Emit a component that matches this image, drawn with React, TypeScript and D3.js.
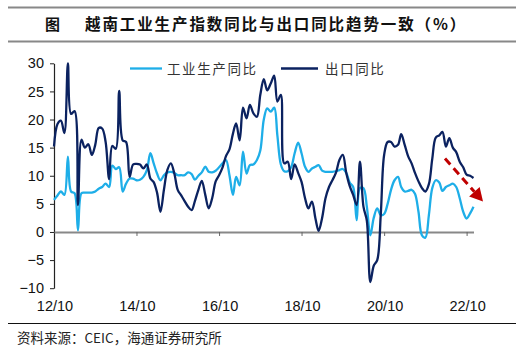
import React, { useEffect, useRef } from "react";
import * as d3 from "d3";

// 数据: 2012/10 起的月度同比 (%)
const startMonth = new Date(2012, 9, 1);
const industryYoY = [
  5.7, 6.5, 7.2, 6.6, 13.4, 7.2, 6.9, 0.3, 6.9, 7.0, 7.0, 7.0, 7.2, 7.7, 8.0, 8.6, 8.0, 11.8, 11.2, 11.5,
  7.2, 8.6, 9.5, 9.5, 9.2, 9.3, 9.8, 11.0, 14.0, 12.3, 10.4, 9.2, 10.1, 10.6, 10.7, 10.5, 10.1, 10.1, 10.1, 10.6,
  10.3, 9.3, 10.0, 10.6, 11.6, 10.7, 10.6, 10.9, 11.5, 12.2, 12.8, 10.1, 6.6, 9.8, 8.3, 14.3, 10.4, 11.9, 12.0, 12.8,
  14.5, 20.0, 22.0, 21.4, 22.1, 17.2, 12.0, 10.8, 10.8, 11.5, 14.0, 15.9, 14.0, 11.6, 10.7, 11.3, 11.6, 11.9, 10.9, 10.7,
  10.7, 10.7, 10.8, 11.0, 11.2, 10.5, 8.8, 8.0, 2.1, 7.8, 7.8, 4.5, -0.6, 2.5, 4.2, 3.0, 3.2, 5.0, 7.5, 9.2,
  9.8, 8.0, 7.2, 7.3, 7.5, 6.8, 3.6, -0.6, -1.0, 3.0, 7.8, 9.2, 8.8, 7.3, 8.0, 8.3, 8.6, 8.0, 6.0, 3.6,
  2.4, 3.3, 4.5,
];
const exportYoY = [
  15.2, 19.2, 19.8, 17.6, 30.0, 21.0, 21.5, 4.8, 16.4, 15.0, 15.6, 13.7, 15.5, 18.5, 18.4, 16.0, 9.4, 15.3, 14.8, 25.1,
  16.3, 16.0, 9.8, 12.0, 12.1, 12.0, 11.3, 12.0, 9.5, 8.9, 7.0, 3.6, 7.5, 11.0, 12.2, 10.4, 7.5, 6.5, 5.5, 4.5,
  3.9, 5.5, 7.5, 9.1, 6.6, 4.2, 6.0, 9.0, 10.1, 11.5, 13.5, 14.7, 17.5, 19.3, 16.3, 22.1, 20.2, 22.6, 21.1, 20.5,
  24.4, 27.2, 25.2, 26.4, 27.8, 23.2, 24.4, 12.2, 12.5, 9.4, 12.0, 10.5, 8.9, 6.0, 4.2, 5.4, 2.4, 0.2, 2.5, 6.0,
  8.0, 9.2, 10.5, 12.8, 13.7, 10.5, 8.2, 6.6, 4.8, 12.5, 4.5, 2.0, -8.9, -6.0, -5.0, 3.0, 13.7, 16.0, 16.0, 15.2,
  15.5, 17.4, 15.5, 13.5, 12.2, 10.5, 9.0, 7.8, 7.2, 8.5, 13.0, 16.8, 17.2, 17.8, 15.2, 16.7, 15.0, 14.2, 12.5, 11.5,
  10.2, 10.0, 9.6,
];
const yTicks = [-10, -5, 0, 5, 10, 15, 20, 25, 30];
const xTickLabels = ["12/10", "14/10", "16/10", "18/10", "20/10", "22/10"];

const seriesNames = ["工业生产同比", "出口同比"];
const colors = { light: "#1eaee8", dark: "#0b2260", red: "#c00000" };

const App = () => {
  const ref = useRef<SVGSVGElement | null>(null);

  useEffect(() => {
    const svg = d3.select(ref.current);
    svg.selectAll("*").remove();

    const numFont = "'Liberation Sans', Arial, sans-serif";
    const cjkFont = "'Noto Sans CJK SC', sans-serif";

    const months = industryYoY.map((_, i) => d3.timeMonth.offset(startMonth, i));
    const parse = d3.timeParse("%y/%m");
    const fmt = d3.timeFormat("%y/%m");

    const x = d3
      .scaleTime()
      .domain([startMonth, months[months.length - 1]])
      .range([54, 473.5]);
    const y = d3.scaleLinear().domain([-10, 30]).range([288.2, 63.3]);

    svg.append("rect").attr("width", 525).attr("height", 353).attr("fill", "#fff");

    // 标题
    svg.append("line").attr("x1", 8).attr("x2", 516).attr("y1", 7.5).attr("y2", 7.5)
      .attr("stroke", "#888").attr("stroke-width", 2);
    svg.append("line").attr("x1", 8).attr("x2", 516).attr("y1", 41.5).attr("y2", 41.5)
      .attr("stroke", "#888").attr("stroke-width", 2);
    svg.append("text").attr("x", 45).attr("y", 30).text("图")
      .style("font-family", cjkFont).style("font-weight", 700).style("font-size", "15px").attr("fill", "#111");
    svg.append("text").attr("x", 85).attr("y", 30).text("越南工业生产指数同比与出口同比趋势一致（%）")
      .style("font-family", cjkFont).style("font-weight", 700).style("font-size", "15.5px")
      .style("letter-spacing", "1.9px").attr("fill", "#111");

    // y 轴
    const yAxis = svg.append("g").attr("transform", "translate(54,0)")
      .call(d3.axisLeft(y).tickValues(yTicks).tickSize(4).tickSizeOuter(0).tickPadding(6));
    yAxis.select(".domain").attr("stroke", "#222").attr("stroke-width", 1.2);
    yAxis.selectAll(".tick line").attr("stroke", "#222");
    yAxis.selectAll("text").style("font-family", numFont).style("font-size", "14.5px").attr("fill", "#111");

    // x 轴 (0 线)
    const xAxis = svg.append("g").attr("transform", `translate(0,${y(0)})`)
      .call(d3.axisBottom(x).tickValues(xTickLabels.slice(1).map((s) => parse(s) as Date)).tickSize(4).tickSizeOuter(0).tickFormat(() => ""));
    xAxis.select(".domain").attr("stroke", "#888").attr("stroke-width", 2);
    xAxis.selectAll(".tick line").attr("stroke", "#666");

    svg.append("g").selectAll("text").data(xTickLabels).join("text")
      .attr("x", (d) => x(parse(d) as Date) + 1)
      .attr("y", 311)
      .attr("text-anchor", "middle")
      .text((d) => fmt(parse(d) as Date))
      .style("font-family", numFont).style("font-size", "14.5px").attr("fill", "#111");

    // 折线
    const line = d3.line<number>()
      .x((_, i) => x(months[i]))
      .y((d) => y(d))
      .curve(d3.curveCatmullRom.alpha(0.5));

    svg.append("path").attr("d", line(industryYoY)).attr("fill", "none")
      .attr("stroke", colors.light).attr("stroke-width", 2.3).attr("stroke-linejoin", "round");
    svg.append("path").attr("d", line(exportYoY)).attr("fill", "none")
      .attr("stroke", colors.dark).attr("stroke-width", 2.3).attr("stroke-linejoin", "round");

    // 图例
    const legend = [
      { name: seriesNames[0], color: colors.light, x0: 130, x1: 162, tx: 167 },
      { name: seriesNames[1], color: colors.dark, x0: 281, x1: 318, tx: 325 },
    ];
    legend.forEach((l) => {
      svg.append("line").attr("x1", l.x0).attr("x2", l.x1).attr("y1", 68.5).attr("y2", 68.5)
        .attr("stroke", l.color).attr("stroke-width", 2.3);
      svg.append("text").attr("x", l.tx).attr("y", 73.5).text(l.name)
        .style("font-family", cjkFont).style("font-size", "13.5px").style("letter-spacing", "1.6px").attr("fill", "#333");
    });

    // 红色虚线箭头
    const a0 = [445, 158.5], a1 = [483, 201.5];
    const ang = Math.atan2(a1[1] - a0[1], a1[0] - a0[0]);
    const headLen = 13, headW = 7;
    const bx = a1[0] - headLen * Math.cos(ang), by = a1[1] - headLen * Math.sin(ang);
    svg.append("line").attr("x1", a0[0]).attr("y1", a0[1]).attr("x2", bx).attr("y2", by)
      .attr("stroke", colors.red).attr("stroke-width", 3).attr("stroke-dasharray", "8,5");
    const nx = -Math.sin(ang), ny = Math.cos(ang);
    svg.append("polygon")
      .attr("points", `${a1[0]},${a1[1]} ${bx + nx * headW},${by + ny * headW} ${bx - nx * headW},${by - ny * headW}`)
      .attr("fill", colors.red);

    // 资料来源
    svg.append("line").attr("x1", 8).attr("x2", 516).attr("y1", 323.5).attr("y2", 323.5)
      .attr("stroke", "#111").attr("stroke-width", 1.2);
    svg.append("text").attr("x", 17).attr("y", 343).text("资料来源：CEIC，海通证券研究所")
      .style("font-family", cjkFont).style("font-size", "13.5px").attr("fill", "#222");

    return () => {
      d3.select(ref.current).selectAll("*").remove();
    };
  }, []);

  return (
    <svg ref={ref} width={525} height={353} style={{ position: "absolute", left: 0, top: 0, display: "block" }} />
  );
};

export default App;
